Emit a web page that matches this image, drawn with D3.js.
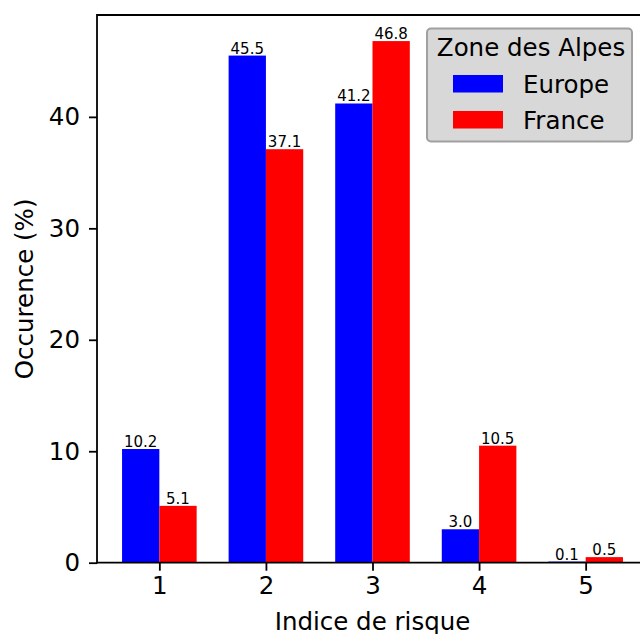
<!DOCTYPE html>
<html>
<head>
<meta charset="utf-8">
<script src="https://cdn.jsdelivr.net/npm/d3@7"></script>
<style>
  html, body { margin: 0; padding: 0; background: #fff; }
  svg { display: block; font-family: "DejaVu Sans", sans-serif; }
</style>
</head>
<body>
<svg id="chart" width="640" height="634"></svg>
<script>
const categories = [1, 2, 3, 4, 5];
const europe = [10.2, 45.5, 41.2, 3.0, 0.1];
const france = [5.1, 37.1, 46.8, 10.5, 0.5];
const seriesNames = ["Europe", "France"];
const seriesColors = ["#0000ff", "#ff0000"];
const yTicks = [0, 10, 20, 30, 40];
const legendTitle = "Zone des Alpes";
const xLabel = "Indice de risque";
const yLabel = "Occurence (%)";

(function () {
const svg = d3.select("#chart");
const pLeft = 97, pRight = 648, pTop = 15, pBottom = 562.7;
const barW = 0.35;
const fs = "24.5px";

const x = d3.scaleLinear().domain([0.415, 5.585]).range([pLeft, pRight]);
const y = d3.scaleLinear().domain([0, 49.14]).range([pBottom, pTop]);

const series = [europe, france];
series.forEach((vals, si) => {
  const g = svg.append("g");
  vals.forEach((v, i) => {
    const c = categories[i];
    const x0 = si === 0 ? c - barW : c;
    const x1 = si === 0 ? c : c + barW;
    g.append("rect")
      .attr("x", x(x0)).attr("y", y(v))
      .attr("width", x(x1) - x(x0)).attr("height", y(0) - y(v))
      .attr("fill", seriesColors[si]);
    g.append("text")
      .attr("x", (x(x0) + x(x1)) / 2).attr("y", y(v) - 2)
      .attr("text-anchor", "middle")
      .attr("font-size", "15px").attr("fill", "#000")
      .text(v.toFixed(1));
  });
});

// axes
const xAxis = d3.axisBottom(x).tickValues(categories).tickSize(8).tickPadding(6).tickFormat(d3.format("d"));
const gx = svg.append("g").attr("transform", `translate(0,${pBottom})`).call(xAxis);
gx.select(".domain").remove();
gx.selectAll(".tick line").attr("stroke", "#000").attr("stroke-width", 1.8);
gx.selectAll(".tick text").attr("font-size", fs).attr("fill", "#000")
  .attr("font-family", "DejaVu Sans").attr("dy", "0.72em");

const yAxis = d3.axisLeft(y).tickValues(yTicks).tickSize(8).tickPadding(9).tickFormat(d3.format("d"));
const gy = svg.append("g").attr("transform", `translate(${pLeft},0)`).call(yAxis);
gy.select(".domain").remove();
gy.selectAll(".tick line").attr("stroke", "#000").attr("stroke-width", 1.8);
gy.selectAll(".tick text").attr("font-size", fs).attr("fill", "#000")
  .attr("font-family", "DejaVu Sans");

// spines
const spine = svg.append("g").attr("stroke", "#000").attr("stroke-width", 1.8).attr("fill", "none");
spine.append("line").attr("x1", pLeft).attr("x2", pLeft).attr("y1", pTop - 0.9).attr("y2", pBottom + 0.9);
spine.append("line").attr("x1", pLeft).attr("x2", pRight).attr("y1", pBottom).attr("y2", pBottom);
spine.append("line").attr("x1", pLeft).attr("x2", pRight).attr("y1", pTop).attr("y2", pTop);
spine.append("line").attr("x1", pRight).attr("x2", pRight).attr("y1", pTop).attr("y2", pBottom);

// axis labels
svg.append("text")
  .attr("x", (pLeft + 648) / 2).attr("y", 630)
  .attr("text-anchor", "middle").attr("font-size", fs).attr("fill", "#000")
  .text(xLabel);
svg.append("text")
  .attr("transform", `translate(33,${(pTop + pBottom) / 2}) rotate(-90)`)
  .attr("text-anchor", "middle").attr("font-size", fs).attr("fill", "#000")
  .text(yLabel);

// legend
const lg = svg.append("g");
lg.append("rect").attr("x", 427).attr("y", 28.5).attr("width", 205).attr("height", 113)
  .attr("rx", 4).attr("fill", "#d8d8d8").attr("stroke", "#a0a0a0").attr("stroke-width", 2);
lg.append("text").attr("x", 531).attr("y", 56).attr("text-anchor", "middle")
  .attr("font-size", fs).attr("fill", "#000").text(legendTitle);
seriesNames.forEach((n, i) => {
  const yy = 75 + i * 36;
  lg.append("rect").attr("x", 453).attr("y", yy).attr("width", 50).attr("height", 17.5)
    .attr("fill", seriesColors[i]);
  lg.append("text").attr("x", 523).attr("y", yy + 17.5).attr("font-size", fs)
    .attr("fill", "#000").text(n);
});
})();
</script>
</body>
</html>
